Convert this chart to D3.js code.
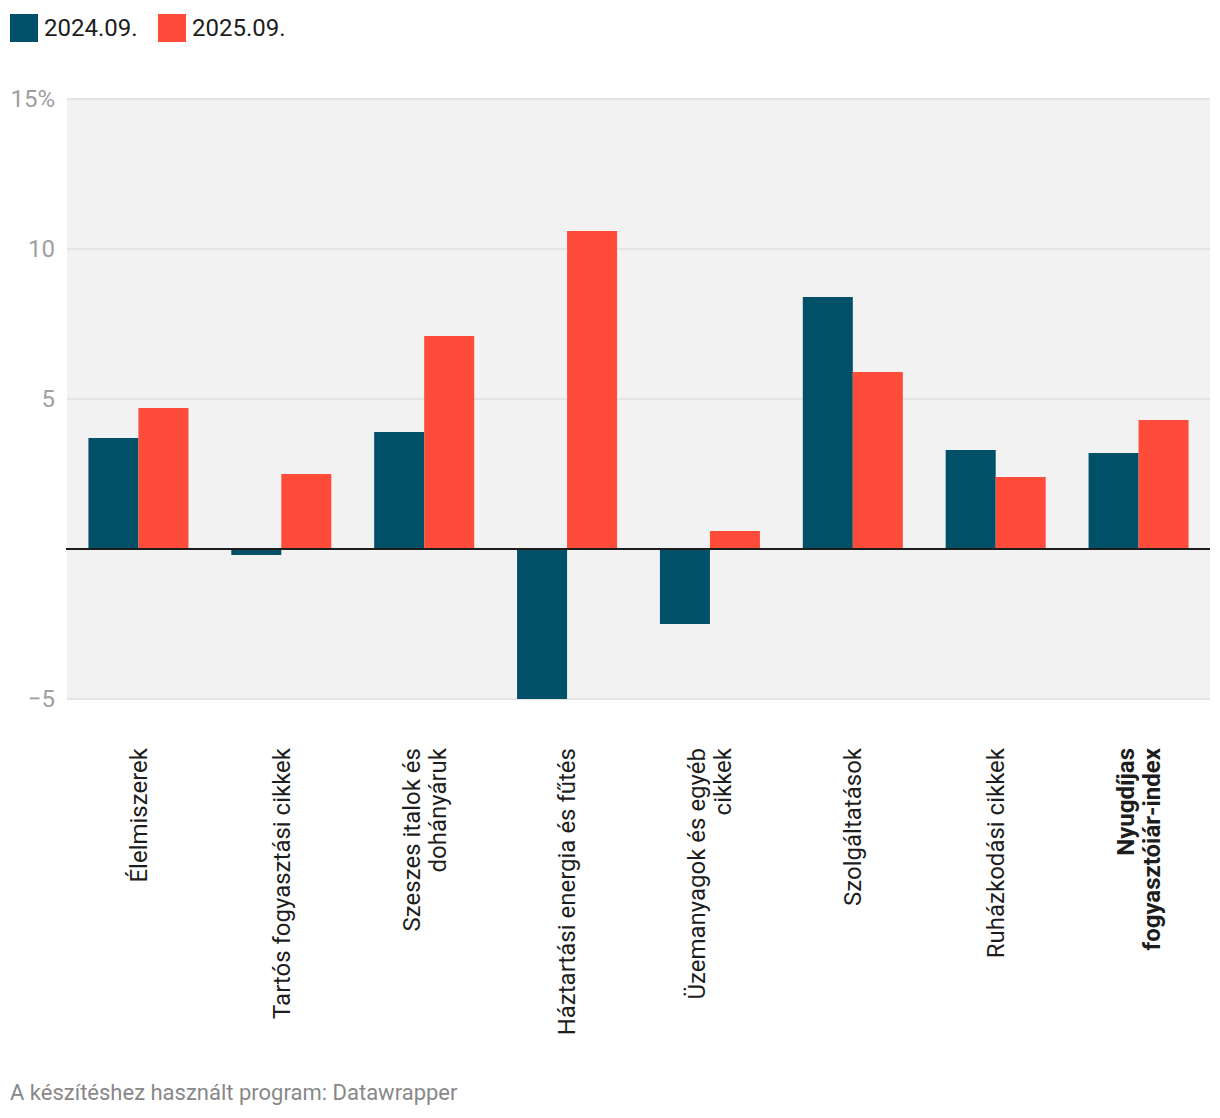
<!DOCTYPE html>
<html><head><meta charset="utf-8">
<script src="https://cdn.jsdelivr.net/npm/d3@7"></script>
<style>
html,body{margin:0;padding:0;background:#fff;}
svg{display:block;font-family:Roboto, "Noto Sans", sans-serif;}
</style></head>
<body>
<svg id="chart" width="1220" height="1118"></svg>
<script>
const categories = [
  ["Élelmiszerek"],
  ["Tartós fogyasztási cikkek"],
  ["Szeszes italok és", "dohányáruk"],
  ["Háztartási energia és fűtés"],
  ["Üzemanyagok és egyéb", "cikkek"],
  ["Szolgáltatások"],
  ["Ruházkodási cikkek"],
  ["Nyugdíjas", "fogyasztóiár-index"]
];
const seriesNames = ["2024.09.", "2025.09."];
const values2024 = [3.7, -0.2, 3.9, -5.0, -2.5, 8.4, 3.3, 3.2];
const values2025 = [4.7, 2.5, 7.1, 10.6, 0.6, 5.9, 2.4, 4.3];
const yTicks = [15, 10, 5, -5];
const yTickLabels = ["15%", "10", "5", "\u22125"];
const colors = ["#005068", "#ff4b39"];

(function(){
const svg = d3.select("#chart");
const mLeft = 67, mRight = 1210, mTop = 99, mBottom = 699;

const x = d3.scaleBand().domain(d3.range(categories.length)).range([mLeft, mRight]).paddingInner(0.3).paddingOuter(0.15);
const xs = d3.scaleBand().domain([0,1]).range([0, x.bandwidth()]);
const y = d3.scaleLinear().domain([-5, 15]).range([mBottom, mTop]);

svg.append("rect").attr("x", mLeft).attr("y", mTop).attr("width", mRight-mLeft).attr("height", mBottom-mTop).attr("fill", "#f2f2f2");

const g = svg.append("g");
g.selectAll("line.grid").data(yTicks).join("line")
  .attr("x1", mLeft).attr("x2", mRight)
  .attr("y1", d => y(d)).attr("y2", d => y(d))
  .attr("stroke", "#e4e4e4").attr("stroke-width", 2);
g.selectAll("text.yl").data(yTicks).join("text")
  .attr("x", 55).attr("y", d => y(d)).attr("dy", "0.35em")
  .attr("text-anchor", "end").attr("fill", "#a0a0a0").attr("font-size", 24)
  .text((d,i) => yTickLabels[i]);

const data = categories.map((c,i) => ({i, v:[values2024[i], values2025[i]]}));
const grp = svg.append("g").selectAll("g").data(data).join("g").attr("transform", d => `translate(${x(d.i)},0)`);
grp.selectAll("rect").data(d => d.v.map((v,k)=>({v,k}))).join("rect")
  .attr("x", d => xs(d.k)).attr("width", xs.bandwidth())
  .attr("y", d => y(Math.max(0, d.v))).attr("height", d => Math.abs(y(d.v) - y(0)))
  .attr("fill", d => colors[d.k]);

svg.append("line").attr("x1", mLeft-1).attr("x2", mRight).attr("y1", y(0)).attr("y2", y(0)).attr("stroke", "#1d1d1d").attr("stroke-width", 2);

const lh = 26;
categories.forEach((lines, i) => {
  const cx = x(i) + x.bandwidth()/2;
  const n = lines.length;
  lines.forEach((t, j) => {
    const off = (j - (n-1)/2) * lh;
    svg.append("text")
      .attr("transform", `translate(${cx + off},748) rotate(-90)`)
      .attr("dy", "0.35em")
      .attr("text-anchor", "end").attr("fill", "#1d1d1d").attr("font-size", 24)
      .attr("font-weight", i === categories.length-1 ? 700 : 400)
      .text(t);
  });
});

let lx = 10;
seriesNames.forEach((s, k) => {
  svg.append("rect").attr("x", lx).attr("y", 14).attr("width", 28).attr("height", 28).attr("fill", colors[k]);
  svg.append("text").attr("x", lx + 34).attr("y", 28).attr("dy", "0.35em").attr("font-size", 24).attr("fill", "#1d1d1d").text(s);
  lx += 148;
});

svg.append("text").attr("x", 10).attr("y", 1092).attr("dy", "0.35em").attr("font-size", 22).attr("fill", "#888").text("A készítéshez használt program: Datawrapper");
})();
</script>
</body></html>
